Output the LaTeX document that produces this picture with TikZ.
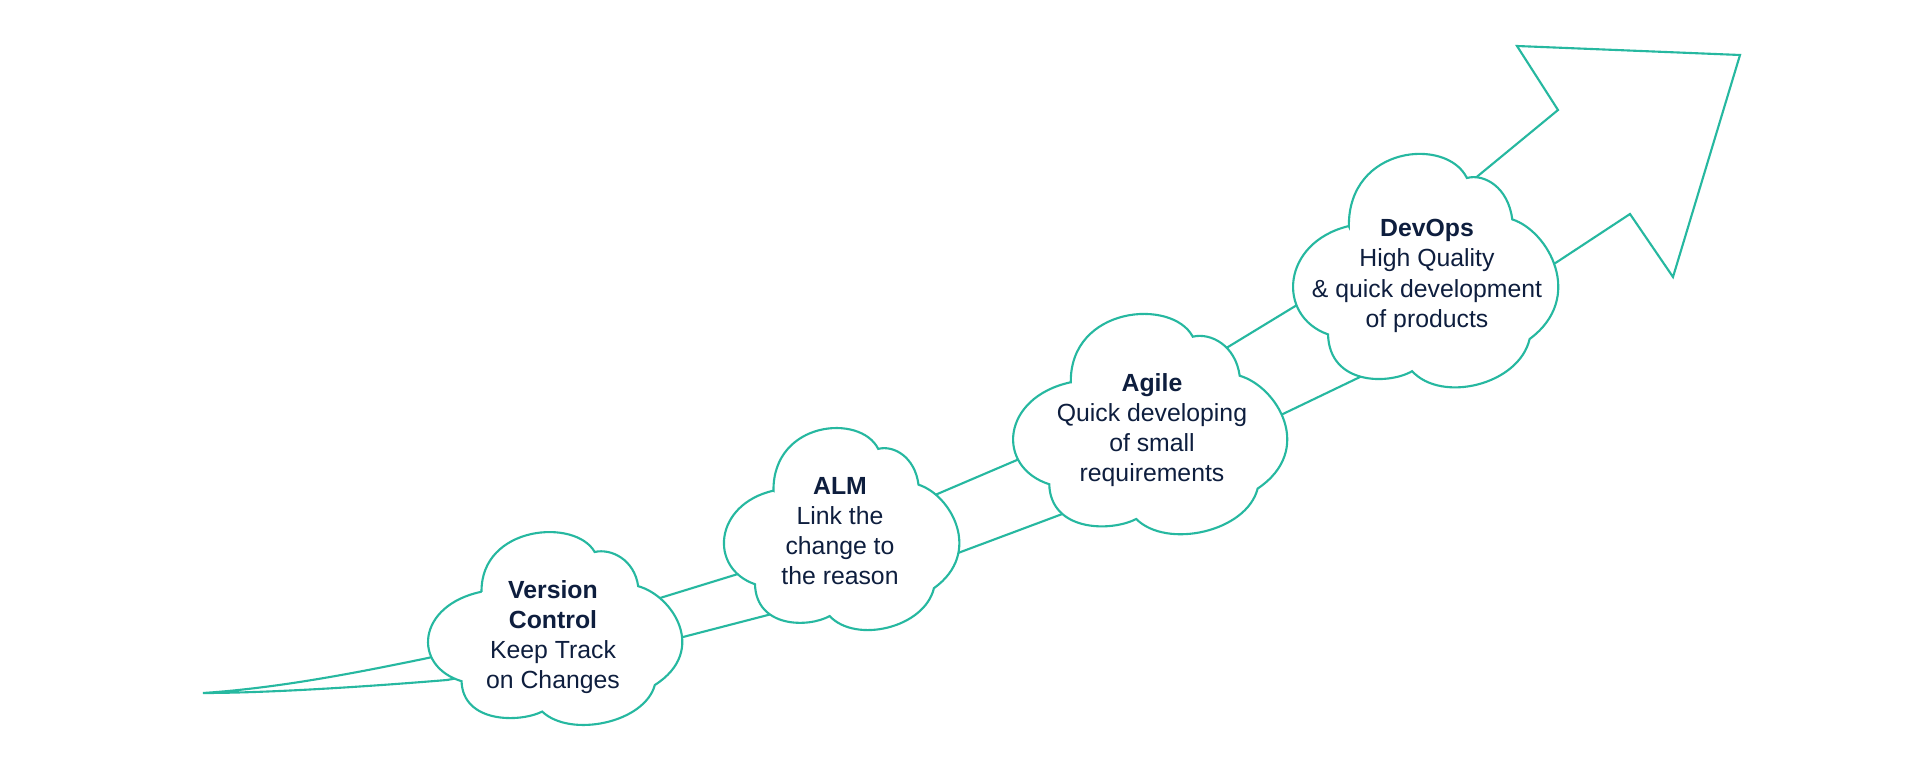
\documentclass[tikz,border=0pt]{standalone}
\usepackage{fontspec}
\setmainfont{Liberation Sans}
\definecolor{tealline}{RGB}{38,184,160}
\definecolor{navytext}{RGB}{14,30,62}
\tikzset{
  arrowline/.style={draw=tealline, line width=0.6pt, line join=miter},
  cloudline/.style={draw=tealline, line width=0.6pt, fill=white},
  cloudtext/.style={text=navytext, align=center, inner sep=0pt,
    font=\fontsize{7.05}{8.6}\selectfont},
}
% #1,#2 = top-left corner (px), #3 = width, #4 = height
\newcommand\drawcloud[4]{%
  \begin{scope}[shift={(#1,#2)}, xscale=#3, yscale=#4]
    \path[cloudline] (0.213,0.31)
      .. controls (0.21,-0.04) and (0.58,-0.08) .. (0.655,0.10)
      .. controls (0.72,0.08) and (0.81,0.14) .. (0.825,0.28)
      .. controls (0.96,0.33) and (1.10,0.62) .. (0.89,0.80)
      .. controls (0.85,1.0) and (0.56,1.08) .. (0.45,0.94)
      .. controls (0.36,1.0) and (0.14,1.0) .. (0.135,0.78)
      .. controls (-0.06,0.70) and (-0.04,0.38) .. cycle;
  \end{scope}}
\begin{document}
\begin{tikzpicture}[x=0.01cm, y=-0.01cm]
  \fill[white] (0,0) rectangle (1920,773);
  \useasboundingbox (0,0) rectangle (1920,773);
  % arrow outline points
  \coordinate (T) at (203,693);
  \coordinate (u1) at (428,658);
  \coordinate (u2) at (647,602);
  \coordinate (u3) at (738,574);
  \coordinate (u4) at (935,495);
  \coordinate (u5) at (1017,460);
  \coordinate (u6) at (1228,347);
  \coordinate (u7) at (1297,305);
  \coordinate (u8) at (1473,180);
  \coordinate (nu) at (1558,110);
  \coordinate (h1) at (1517,46);
  \coordinate (h2) at (1740,55);
  \coordinate (h3) at (1673,277);
  \coordinate (nl) at (1630,214);
  \coordinate (l8) at (1557,262);
  \coordinate (l7) at (1360,377);
  \coordinate (l6) at (1285,413);
  \coordinate (l5) at (1065,513);
  \coordinate (l4) at (958,553);
  \coordinate (l3) at (768,615);
  \coordinate (l2) at (683,637);
  \coordinate (l1) at (447,680);
  \draw[arrowline] (T) .. controls (280,688) and (360,672) .. (u1)
    -- (u2) -- (u3) -- (u4) -- (u5) -- (u6) -- (u7) -- (u8) -- (nu)
    -- (h1) -- (h2) -- (h3) -- (nl)
    -- (l8) -- (l7) -- (l6) -- (l5) -- (l4) -- (l3) -- (l2) -- (l1)
    .. controls (350,688) and (260,693) .. (T) -- cycle;
  % clouds
  \drawcloud{427}{533}{256}{190}
  \drawcloud{723}{429}{237}{199}
  \drawcloud{1012}{315}{276}{217}
  \drawcloud{1292}{155}{267}{230}
  % texts
  \node[cloudtext] (vc) at (553,637) {\textbf{Version}\\\textbf{Control}\\Keep Track\\on Changes};
  \node[cloudtext] (alm) at (840,531) {\textbf{ALM}\\Link the\\change to\\the reason};
  \node[cloudtext] (agile) at (1152,430) {\textbf{Agile}\\Quick developing\\of small\\requirements};
  \node[cloudtext] (devops) at (1427,276) {\textbf{DevOps}\\High Quality\\\& quick development\\of products};
\end{tikzpicture}
\end{document}
